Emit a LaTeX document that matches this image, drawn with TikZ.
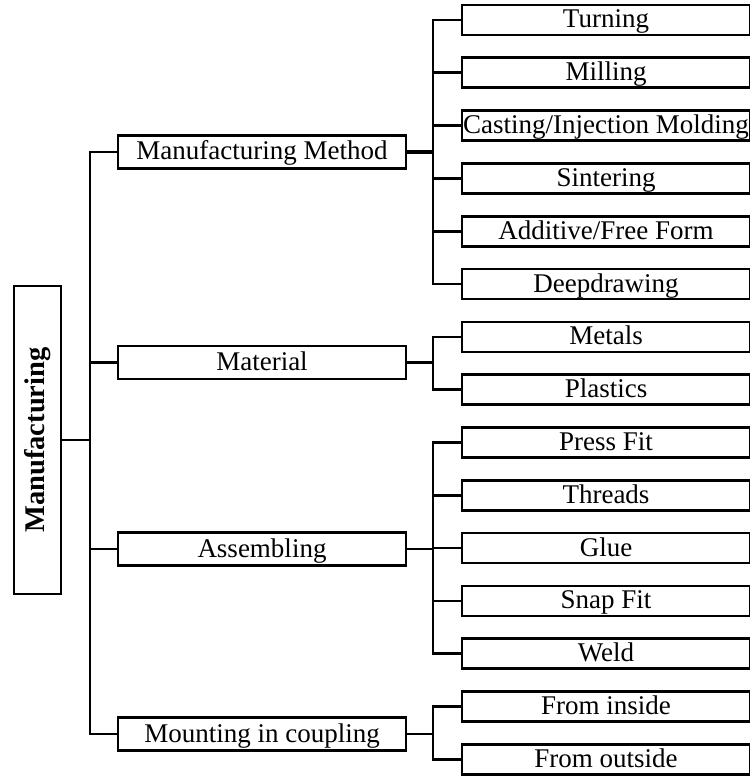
\documentclass[tikz,border=0pt]{standalone}
\usepackage{fontspec}
\setmainfont{Liberation Serif}
\begin{document}
\begin{tikzpicture}[x=1pt,y=-1pt,
  lvlbox/.style={draw,line width=2.6pt,minimum width=288pt,minimum height=33pt,inner sep=0pt,text height=16pt,text depth=0pt,font=\fontsize{27}{29}\selectfont},
  leafbox/.style={draw,line width=2.6pt,minimum width=288pt,minimum height=30pt,inner sep=0pt,text height=16pt,text depth=0pt,font=\fontsize{27}{29}\selectfont},
  conn/.style={line width=2.6pt}]
\useasboundingbox (0,0) rectangle (749,778);
\node[draw,line width=2.6pt,minimum width=47pt,minimum height=308pt,inner sep=0pt] (root) at (37.5,440)
  {\rotatebox{90}{\fontsize{28.5}{30}\selectfont\bfseries Manufacturing}};
\node[lvlbox] (mm) at (262,152) {Manufacturing Method};
\node[lvlbox] (mat) at (262,362.5) {Material};
\node[lvlbox] (asm) at (262,549) {Assembling};
\node[lvlbox] (mnt) at (262,734) {Mounting in coupling};
\foreach \i/\t in {0/Turning,1/Milling,2/Casting\slash Injection Molding,3/Sintering,4/Additive\slash Free Form,5/Deepdrawing,6/Metals,7/Plastics,8/Press Fit,9/Threads,10/Glue,11/Snap Fit,12/Weld,13/From inside,14/From outside}
  \node[leafbox] (c\i) at (606,{20+52.8*\i}) {\t};
\coordinate (T) at (90,0);
\coordinate (B) at (433,0);
% trunk
\draw[conn] (root.east) -- (root.east -| T);
\draw[conn] (mm.west) -- (mm.west -| T) |- (mnt.west);
\draw[conn] (mat.west) -- (mat.west -| T);
\draw[conn] (asm.west) -- (asm.west -| T);
% manufacturing method
\draw[conn,line width=3.4pt] (mm.east) -- (mm.east -| B);
\draw[conn] (c0.west) -- (c0.west -| B) |- (c5.west);
\foreach \i in {1,2,3,4} \draw[conn] (c\i.west) -- (c\i.west -| B);
% material
\draw[conn] (mat.east) -- (mat.east -| B);
\draw[conn] (c6.west) -- (c6.west -| B) |- (c7.west);
% assembling
\draw[conn] (asm.east) -- (asm.east -| B);
\draw[conn] (c8.west) -- (c8.west -| B) |- (c12.west);
\foreach \i in {9,10,11} \draw[conn] (c\i.west) -- (c\i.west -| B);
% mounting
\draw[conn] (mnt.east) -- (mnt.east -| B);
\draw[conn] (c13.west) -- (c13.west -| B) |- (c14.west);
\end{tikzpicture}
\end{document}
